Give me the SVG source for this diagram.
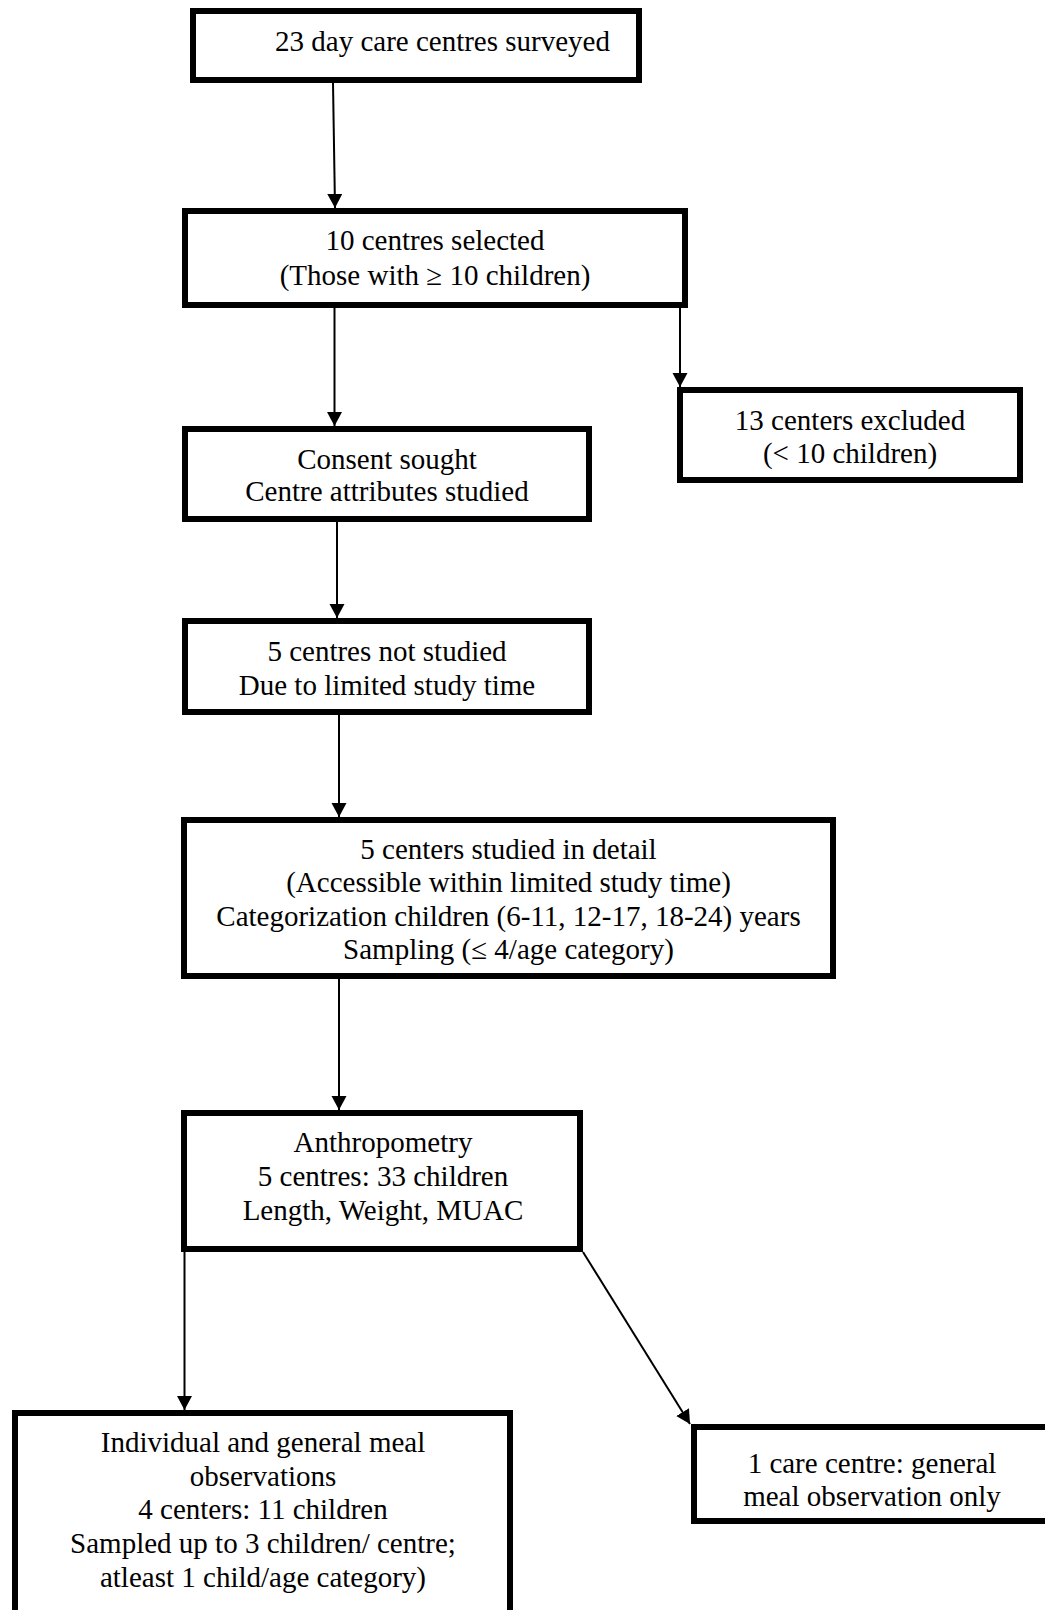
<svg xmlns="http://www.w3.org/2000/svg" width="1045" height="1610" viewBox="0 0 1045 1610">
<style>
.box{fill:#fff;stroke:#000;stroke-width:6}
.t{font-family:"Liberation Serif","Times New Roman",serif;font-size:29px;fill:#000;text-anchor:middle}
.c{stroke:#000;stroke-width:2;fill:none;marker-end:url(#ah)}
</style>
<defs>
<marker id="ah" markerUnits="userSpaceOnUse" markerWidth="16" markerHeight="16" refX="14" refY="7.5" orient="auto">
<path d="M0,0 L14,7.5 L0,15 z" fill="#000"/>
</marker>
</defs>
<rect width="1045" height="1610" fill="#fff"/>
<g id="connectors">
<line class="c" x1="333" y1="83" x2="335" y2="208"/>
<line class="c" x1="334.5" y1="308" x2="334.5" y2="426"/>
<line class="c" x1="680" y1="308" x2="680" y2="387"/>
<line class="c" x1="337" y1="522" x2="337" y2="618"/>
<line class="c" x1="339" y1="715" x2="339" y2="817"/>
<line class="c" x1="339" y1="979" x2="339" y2="1110"/>
<line class="c" x1="184.5" y1="1252" x2="184.5" y2="1410"/>
<line class="c" x1="583" y1="1252" x2="690" y2="1424"/>
</g>
<g id="n1">
<rect class="box" x="193" y="11" width="446" height="69"/>
<text class="t" x="442.5" y="51">23 day care centres surveyed</text>
</g>
<g id="n2">
<rect class="box" x="185" y="211" width="500" height="94"/>
<text class="t" x="435" y="250">10 centres selected</text>
<text class="t" x="435" y="285">(Those with ≥ 10 children)</text>
</g>
<g id="n3">
<rect class="box" x="680" y="390" width="340" height="90"/>
<text class="t" x="850" y="429.5">13 centers excluded</text>
<text class="t" x="850" y="462.5">(&lt; 10 children)</text>
</g>
<g id="n4">
<rect class="box" x="185" y="429" width="404" height="90"/>
<text class="t" x="387" y="468.5">Consent sought</text>
<text class="t" x="387" y="501">Centre attributes studied</text>
</g>
<g id="n5">
<rect class="box" x="185" y="621" width="404" height="91"/>
<text class="t" x="387" y="661">5 centres not studied</text>
<text class="t" x="387" y="695">Due to limited study time</text>
</g>
<g id="n6">
<rect class="box" x="184" y="820" width="649" height="156"/>
<text class="t" x="508.5" y="859">5 centers studied in detail</text>
<text class="t" x="508.5" y="892">(Accessible within limited study time)</text>
<text class="t" x="508.5" y="925.5">Categorization children (6-11, 12-17, 18-24) years</text>
<text class="t" x="508.5" y="959">Sampling (≤ 4/age category)</text>
</g>
<g id="n7">
<rect class="box" x="184" y="1113" width="396" height="136"/>
<text class="t" x="383" y="1152">Anthropometry</text>
<text class="t" x="383" y="1185.5">5 centres: 33 children</text>
<text class="t" x="383" y="1219.5">Length, Weight, MUAC</text>
</g>
<g id="n8">
<rect class="box" x="15" y="1413" width="495" height="220"/>
<text class="t" x="263" y="1452">Individual and general meal</text>
<text class="t" x="263" y="1485.5">observations</text>
<text class="t" x="263" y="1519">4 centers: 11 children</text>
<text class="t" x="263" y="1553">Sampled up to 3 children/ centre;</text>
<text class="t" x="263" y="1586.5">atleast 1 child/age category)</text>
</g>
<g id="n9">
<rect class="box" x="694" y="1427" width="380" height="94"/>
<text class="t" x="872" y="1473">1 care centre: general</text>
<text class="t" x="872" y="1506">meal observation only</text>
</g>
</svg>
